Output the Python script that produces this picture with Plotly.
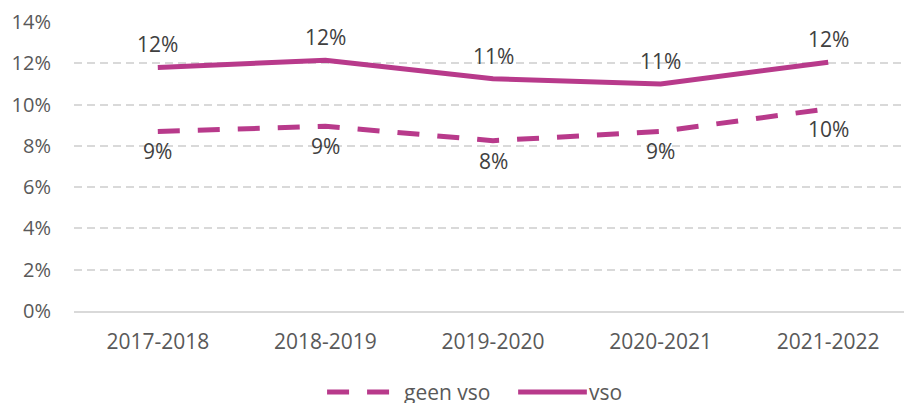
import plotly.graph_objects as go

categories = ["2017-2018", "2018-2019", "2019-2020", "2020-2021", "2021-2022"]
vso = [11.8, 12.15, 11.25, 11.0, 12.05]
geen_vso = [8.7, 8.95, 8.25, 8.7, 9.8]
series_names = ["geen vso", "vso"]
y_ticks = [0, 2, 4, 6, 8, 10, 12, 14]
y_tick_labels = [f"{v}%" for v in y_ticks]

color = "#B83A8B"
font_family = "Open Sans, Noto Sans, sans-serif"
fs = 21

fig = go.Figure()
fig.add_trace(go.Scatter(
    x=categories, y=geen_vso, name=series_names[0], mode="lines",
    line=dict(color=color, width=5, dash="22px,18px"), showlegend=False,
))
fig.add_trace(go.Scatter(
    x=categories, y=vso, name=series_names[1], mode="lines",
    line=dict(color=color, width=5), showlegend=False,
))

for c, v in zip(categories, vso):
    fig.add_annotation(x=c, y=v, text=f"{round(v)}%", showarrow=False,
                       yshift=23, font=dict(size=fs, color="#404040", family=font_family))
for c, v in zip(categories, geen_vso):
    fig.add_annotation(x=c, y=v, text=f"{round(v)}%", showarrow=False,
                       yshift=-20, font=dict(size=fs, color="#404040", family=font_family))

# manual legend (wide line symbols, as in the reference)
leg_y = -0.28
fig.add_shape(type="line", xref="paper", yref="paper", x0=0.302, x1=0.394, y0=leg_y, y1=leg_y,
              line=dict(color=color, width=5, dash="22px,18px"))
fig.add_annotation(xref="paper", yref="paper", x=0.392, y=leg_y, xanchor="left", yanchor="middle",
                   text=series_names[0], showarrow=False,
                   font=dict(size=fs, color="#595959", family=font_family))
fig.add_shape(type="line", xref="paper", yref="paper", x0=0.530, x1=0.612, y0=leg_y, y1=leg_y,
              line=dict(color=color, width=5))
fig.add_annotation(xref="paper", yref="paper", x=0.612, y=leg_y, xanchor="left", yanchor="middle",
                   text=series_names[1], showarrow=False,
                   font=dict(size=fs, color="#595959", family=font_family))

# page body has an 8px default margin, so the figure is sized to fit the 912x403 window
fig.update_layout(
    width=904, height=395,
    margin=dict(l=66, r=0, t=14, b=92),
    paper_bgcolor="white", plot_bgcolor="white",
    font=dict(family=font_family, size=fs, color="#595959"),
    showlegend=False,
    xaxis=dict(type="category", range=[-0.5, 4.5], showgrid=False, showline=True,
               linecolor="#d9d9d9", linewidth=1.5, ticks="", ticklabelstandoff=11,
               automargin=False, ticklabeloverflow="allow",
               tickfont=dict(size=fs, color="#595959")),
    yaxis=dict(range=[0, 14], tickvals=y_ticks, ticktext=y_tick_labels,
               showgrid=True, gridcolor="#d9d9d9", gridwidth=1.5, griddash="8px,5px",
               zeroline=False, showline=False, ticks="", ticklabelstandoff=22,
               automargin=False, ticklabeloverflow="allow",
               tickfont=dict(size=20, color="#595959")),
)

fig.write_html("out.html")
